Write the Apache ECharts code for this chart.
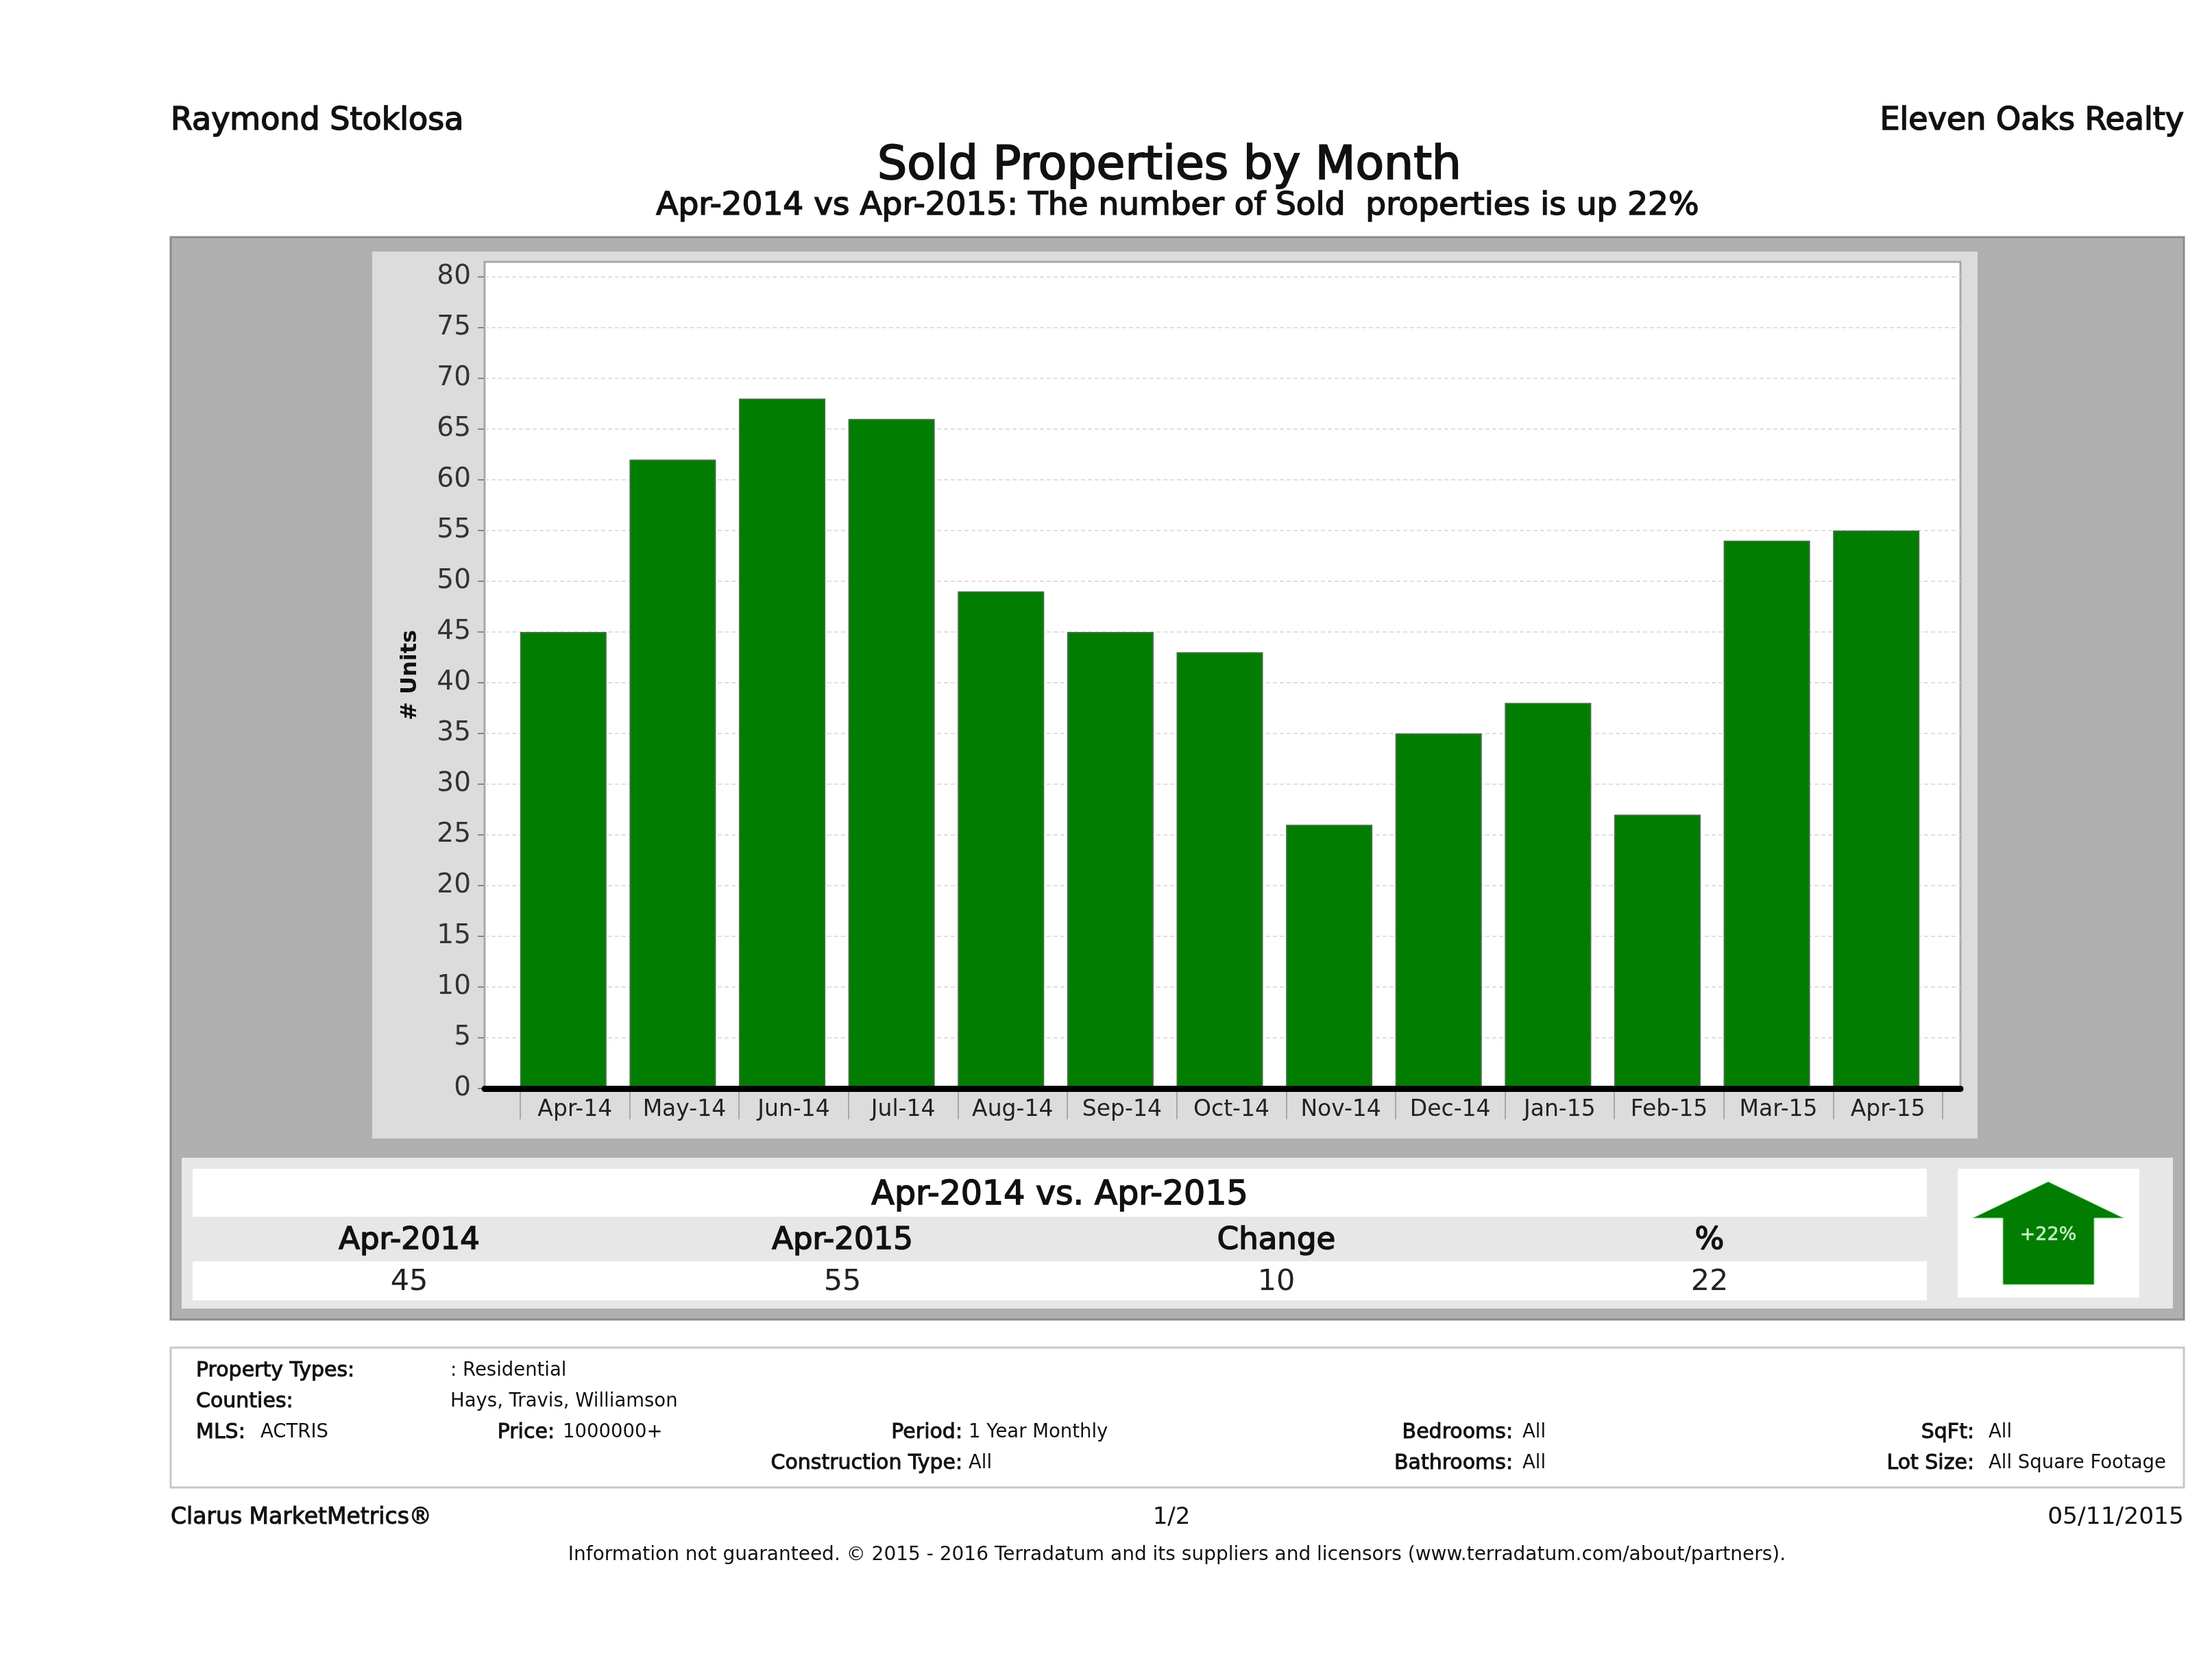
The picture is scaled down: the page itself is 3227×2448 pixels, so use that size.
<!DOCTYPE html>
<html>
<head>
<meta charset="utf-8">
<title>Sold Properties by Month</title>
<script src="https://cdn.jsdelivr.net/npm/echarts@6/dist/echarts.min.js"></script>
<style>
  html, body { margin: 0; padding: 0; background: #fff; }
  #chart { width: 3227px; height: 2448px; }
</style>
</head>
<body>
<div id="chart"></div>
<script>
var months = ['Apr-14', 'May-14', 'Jun-14', 'Jul-14', 'Aug-14', 'Sep-14', 'Oct-14', 'Nov-14', 'Dec-14', 'Jan-15', 'Feb-15', 'Mar-15', 'Apr-15'];
var soldUnits = [45, 62, 68, 66, 49, 45, 43, 26, 35, 38, 27, 54, 55];
var tableHeads = ['Apr-2014', 'Apr-2015', 'Change', '%'];
var tableValues = ['45', '55', '10', '22'];

var FONT = '"DejaVu Sans", sans-serif';
var GREEN = '#017d01';
var elems = [];
var zCount = -200;

function box(x, y, w, h, fill, stroke, lw) {
  elems.push({ type: 'rect', silent: true, z: zCount++,
    shape: { x: x, y: y, width: w, height: h },
    style: { fill: fill, stroke: stroke || null, lineWidth: lw || 0 } });
}
// heavy = regular face with a thin outline, the source font is only semi bold
function txt(s, x, y, size, align, heavy, color) {
  elems.push({ type: 'text', silent: true, z: zCount++, x: x, y: y,
    style: { text: s, font: size + 'px ' + FONT, fill: color || '#111',
      textAlign: align || 'left', textVerticalAlign: 'middle',
      stroke: heavy ? (color || '#111') : null, lineWidth: heavy ? heavy : 0 } });
}

// panels
box(249, 346, 2937, 1579, '#b0b0b0', '#8c8c8c', 3);
box(543, 367, 2342, 1294, '#dcdcdc');
box(707, 382, 2153, 1206, '#ffffff', '#a8a8a8', 3);
box(265, 1689, 2905, 220, '#e7e7e7');
box(281, 1705, 2530, 70, '#ffffff');
box(281, 1840, 2530, 57, '#ffffff');
box(2856, 1705, 265, 188, '#ffffff');
box(249, 1966, 2937, 204, '#ffffff', '#c8c8c8', 3);

// arrow badge
elems.push({ type: 'polygon', silent: true, z: zCount++,
  shape: { points: [[2988, 1724], [3098, 1777], [3055, 1777], [3055, 1874], [2922, 1874], [2922, 1777], [2878, 1777]] },
  style: { fill: GREEN, stroke: '#8fdc8f', lineWidth: 1 } });
txt('+22%', 2988, 1802, 27, 'center', 0.5, '#c8f0c8');

// header
txt('Raymond Stoklosa', 249, 177, 46, 'left', 1.6);
txt('Eleven Oaks Realty', 3186, 177, 46, 'right', 1.6);
txt('Sold Properties by Month', 1706, 243, 68, 'center', 2);
txt('Apr-2014 vs Apr-2015: The number of Sold  properties is up 22%', 1718, 301, 47, 'center', 1.6);

// comparison table
txt('Apr-2014 vs. Apr-2015', 1546, 1744, 49, 'center', 1.6);
var colX = [597, 1229, 1862, 2494];
for (var i = 0; i < colX.length; i++) {
  txt(tableHeads[i], colX[i], 1810, 45, 'center', 1.6);
  txt(tableValues[i], colX[i], 1871, 43, 'center', 0, '#222');
}

// filter box
txt('Property Types:', 286, 2000, 30, 'left', 1);
txt(': Residential', 657, 2000, 27.5);
txt('Counties:', 286, 2045, 30, 'left', 1);
txt('Hays, Travis, Williamson', 657, 2045, 27.5);
txt('MLS:', 286, 2090, 30, 'left', 1);
txt('ACTRIS', 380, 2090, 27.5);
txt('Price:', 809, 2090, 30, 'right', 1);
txt('1000000+', 821, 2090, 27.5);
txt('Period:', 1404, 2090, 30, 'right', 1);
txt('1 Year Monthly', 1413, 2090, 27.5);
txt('Construction Type:', 1404, 2135, 30, 'right', 1);
txt('All', 1413, 2135, 27.5);
txt('Bedrooms:', 2207, 2090, 30, 'right', 1);
txt('All', 2221, 2090, 27.5);
txt('Bathrooms:', 2207, 2135, 30, 'right', 1);
txt('All', 2221, 2135, 27.5);
txt('SqFt:', 2880, 2090, 30, 'right', 1);
txt('All', 2901, 2090, 27.5);
txt('Lot Size:', 2880, 2135, 30, 'right', 1);
txt('All Square Footage', 2901, 2135, 27.5);

// footer
txt('Clarus MarketMetrics\u00ae', 249, 2214, 33, 'left', 1);
txt('1/2', 1709, 2214, 34, 'center');
txt('05/11/2015', 3186, 2214, 34.5, 'right');
txt('Information not guaranteed. \u00a9 2015 - 2016 Terradatum and its suppliers and licensors (www.terradatum.com/about/partners).', 1717, 2269, 28, 'center');

var chart = echarts.init(document.getElementById('chart'));
var option = {
  animation: false,
  graphic: { elements: elems },
  // grid 0 = frame, y scale and baseline. grid 1 = month ticks and labels. grid 2 = bars, they sit left in their slot
  grid: [
    { left: 707, width: 2153, top: 404, height: 1184 },
    { left: 759, width: 2075, top: 404, height: 1184 },
    { left: 742, width: 2075, top: 404, height: 1184 }
  ],
  xAxis: [
    { gridIndex: 0, type: 'value', min: 0, max: 1, offset: 4, z: 5,
      axisLine: { show: true, lineStyle: { color: '#000', width: 9 } },
      axisTick: { show: false }, axisLabel: { show: false }, splitLine: { show: false } },
    { gridIndex: 1, type: 'category', data: months,
      axisLine: { show: false },
      axisTick: { show: true, length: 45, lineStyle: { color: '#a8a8a8', width: 2 } },
      axisLabel: { interval: 0, margin: 15, fontFamily: FONT, fontSize: 33, color: '#222' } },
    { gridIndex: 2, type: 'category', data: months, show: false }
  ],
  yAxis: [
    { gridIndex: 0, type: 'value', min: 0, max: 80, interval: 5,
      name: '# Units', nameLocation: 'middle', nameGap: 92, nameRotate: 90,
      nameTextStyle: { fontFamily: FONT, fontSize: 32, fontWeight: 'bold', color: '#111', padding: [0, 0, 0, 22] },
      axisLine: { show: false },
      axisTick: { show: true, length: 10, lineStyle: { color: '#888', width: 2 } },
      axisLabel: { margin: 20, fontFamily: FONT, fontSize: 39, color: '#333' },
      splitLine: { show: true, lineStyle: { color: '#e0e0e0', width: 2, type: [6, 4] } } },
    { gridIndex: 1, type: 'value', min: 0, max: 80, show: false, splitLine: { show: false } },
    { gridIndex: 2, type: 'value', min: 0, max: 80, show: false, splitLine: { show: false } }
  ],
  series: [
    { name: 'Sold', type: 'bar', xAxisIndex: 2, yAxisIndex: 2, data: soldUnits, barWidth: 126,
      silent: true, itemStyle: { color: GREEN, borderColor: '#3c6f3c', borderWidth: 2 } }
  ]
};
chart.setOption(option);
</script>
</body>
</html>
